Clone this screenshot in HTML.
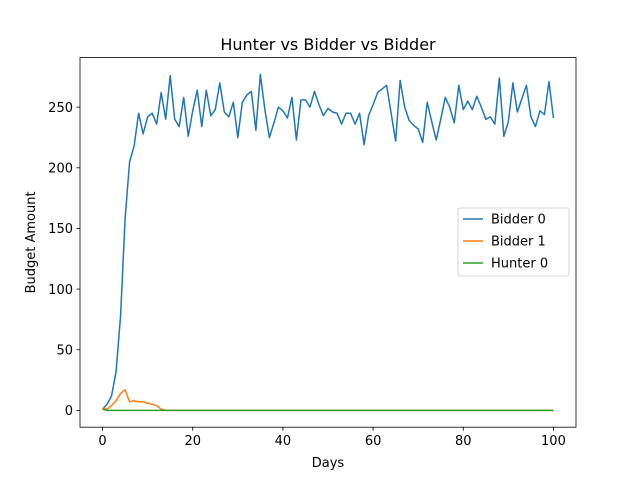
<!DOCTYPE html>
<html><head><meta charset="utf-8"><style>body{margin:0;background:#fff}svg{display:block;font-family:"DejaVu Sans","Liberation Sans",sans-serif}</style></head>
<body><svg id="c" width="640" height="480"></svg>
<script>
const days=[];for(let i=0;i<=100;i++)days.push(i);
const bidder0=[1,5,12,32,78,158,205,218,245,228,242,245,236,262,240,276,240,234,258,226,247,264,234,264,243,248,270,246,242,254,225,254,260,263,231,277,248,225,237,250,247,241,258,223,256,256,250,263,252,243,249,246,245,236,245,245,236,245,219,243,252,262,265,268,245,222,272,250,239,235,232,221,254,238,223,240,258,250,237,268,248,255,248,259,250,240,242,236,274,226,238,270,246,257,268,242,234,247,244,271,241];
const bidder1=[2,1,4,8,14,17,7,8,7,7,6,5,4,1,0];
const hunter0=[1];
const xTicks=[0,20,40,60,80,100];
const yTicks=[0,50,100,150,200,250];
const seriesNames=["Bidder 0","Bidder 1","Hunter 0"];
const colors=["#1f77b4","#ff7f0e","#2ca02c"];
const L=80,R=576,T=57.6,B=427.2;
const xmin=-5,xmax=105,ymin=-13.85,ymax=290.85;
const X=v=>L+(v-xmin)/(xmax-xmin)*(R-L);
const Y=v=>B-(v-ymin)/(ymax-ymin)*(B-T);
const svg=document.getElementById('c');
const NS="http://www.w3.org/2000/svg";
function mk(t,a,p){const e=document.createElementNS(NS,t);for(const k in a)e.setAttribute(k,a[k]);(p||svg).appendChild(e);return e;}
function full(arr){return days.map(d=>d<arr.length?arr[d]:0);}
const data=[bidder0,full(bidder1),full(hunter0)];
const FS=13;
data.forEach((s,i)=>{
  const p=mk('polyline',{points:s.map((v,j)=>X(days[j])+','+Y(v)).join(' '),fill:'none',stroke:colors[i],'stroke-width':1.5,'stroke-linejoin':'round'});
  
  
});
const frame=mk('rect',{x:L,y:T,width:R-L,height:B-T,fill:'none',stroke:'#000','stroke-width':0.8});


xTicks.forEach(t=>{
  mk('line',{x1:X(t),x2:X(t),y1:B,y2:B+3.5,stroke:'#000','stroke-width':0.8});
  const tx=mk('text',{x:X(t),y:B+18,'text-anchor':'middle','font-size':FS});tx.textContent=t;
  
  
});
yTicks.forEach(t=>{
  mk('line',{x1:L-3.5,x2:L,y1:Y(t),y2:Y(t),stroke:'#000','stroke-width':0.8});
  const tx=mk('text',{x:L-7,y:Y(t)+4.7,'text-anchor':'end','font-size':FS});tx.textContent=t;
  
  
});
const title=mk('text',{x:(L+R)/2,y:50,'text-anchor':'middle','font-size':16});title.textContent="Hunter vs Bidder vs Bidder";


const xl=mk('text',{x:(L+R)/2,y:467,'text-anchor':'middle','font-size':FS});xl.textContent="Days";


const yl=mk('text',{x:0,y:0,'text-anchor':'middle','font-size':FS,transform:'translate(35,'+((T+B)/2)+') rotate(-90)'});yl.textContent="Budget Amount";


const lg=mk('g',{});


mk('rect',{x:458,y:208,width:111,height:68,rx:2,fill:'#fff',stroke:'#ccc','stroke-width':0.8},lg);
seriesNames.forEach((n,i)=>{
  const y=219+i*22;
  mk('line',{x1:463,x2:483,y1:y,y2:y,stroke:colors[i],'stroke-width':1.5},lg);
  const t=mk('text',{x:491,y:y+4.7,'font-size':FS},lg);t.textContent=n;
  
  
});
</script></body></html>
